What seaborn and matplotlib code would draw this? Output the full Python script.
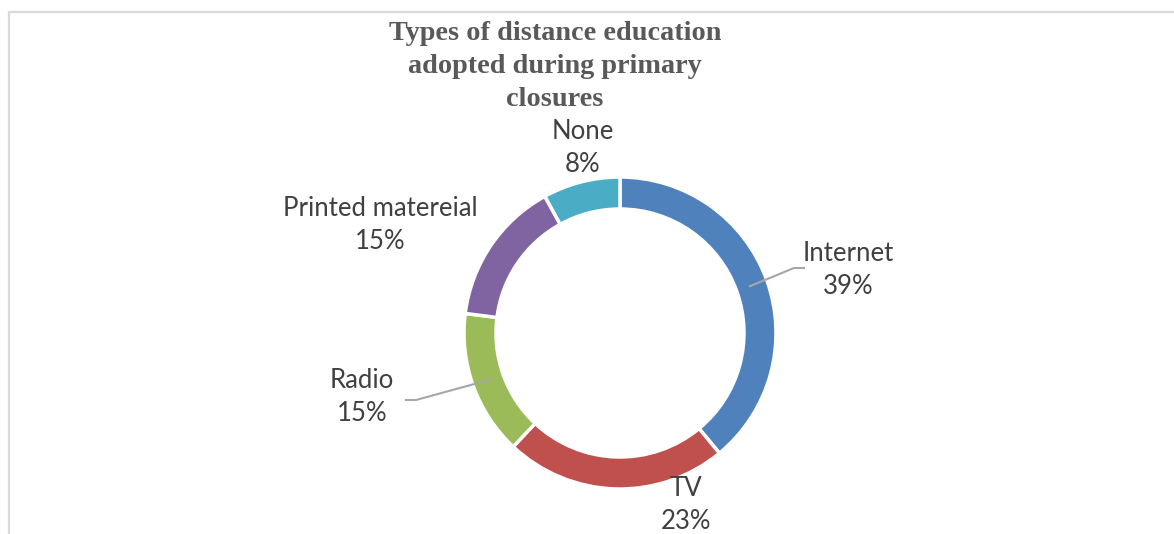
import matplotlib
matplotlib.use("Agg")
import matplotlib.pyplot as plt
import numpy as np
import seaborn as sns
from matplotlib.patches import Rectangle

# Survey shares (percent) for each type of distance education
categories = ["Internet", "TV", "Radio", "Printed matereial", "None"]
shares = [39, 23, 15, 15, 8]
colors = ["#4F81BD", "#C0504D", "#9BBB59", "#8064A2", "#4BACC6"]
title_lines = ["Types of distance education", "adopted during primary", "closures"]

sns.set_theme(style="white")
plt.rcParams["font.family"] = ["Lato", "DejaVu Sans"]

W, H = 1174, 534
fig = plt.figure(figsize=(W / 100, H / 100), dpi=100)
fig.patch.set_facecolor("white")

# Axes spanning the whole canvas, measured in pixels (y upward)
ax = fig.add_axes([0, 0, 1, 1])
ax.set_xlim(0, W)
ax.set_ylim(0, H)
ax.set_aspect("equal")
ax.axis("off")

# Chart-area border (top and left edges visible)
ax.add_patch(Rectangle((9, -5), W + 10, H - 12 + 5, fill=False,
                       edgecolor="#d9d9d9", linewidth=1.6, zorder=0))

cx, cy = 620, H - 333
r_out = 156
ring = 32

wedges, _ = ax.pie(shares, colors=colors, startangle=90, counterclock=False,
                   radius=r_out, center=(cx, cy), frame=True,
                   wedgeprops=dict(width=ring, edgecolor="white", linewidth=2.5))
ax.set_xlim(0, W)
ax.set_ylim(0, H)
ax.axis("off")

# Label placement: offset of each label's centre from the ring centre
label_offsets = [(228, 63), (66, -172), (-258, -64), (-240, 108), (-37, 185)]
with_leader = [True, False, True, False, False]

cum = np.cumsum([0] + shares[:-1])
for i, (name, val) in enumerate(zip(categories, shares)):
    mid = 90 - (cum[i] + val / 2) / sum(shares) * 360
    dx, dy = label_offsets[i]
    lx, ly = cx + dx, cy + dy
    ax.text(lx, ly, f"{name}\n{val}%", ha="center", va="center",
            fontsize=18.5, color="#404040", linespacing=1.36)
    if with_leader[i]:
        rr = r_out - 19
        px = cx + rr * np.cos(np.radians(mid))
        py = cy + rr * np.sin(np.radians(mid))
        side = 1 if dx > 0 else -1
        ex = lx - side * 43
        kx = ex - side * 11
        ly_line = ly + 2 if dx > 0 else ly - 3
        ax.plot([px, kx, ex], [py, ly_line, ly_line], color="#a6a6a6", lw=1.5,
                solid_capstyle="butt")

# Title (three centred lines)
for j, line in enumerate(title_lines):
    ax.text(555, H - (34 + j * 32.5), line, ha="center", va="center",
            fontsize=20.3, fontweight="bold", color="#595959",
            family=["Liberation Serif", "DejaVu Serif"])

fig.savefig("out.png", dpi=100, facecolor="white")
